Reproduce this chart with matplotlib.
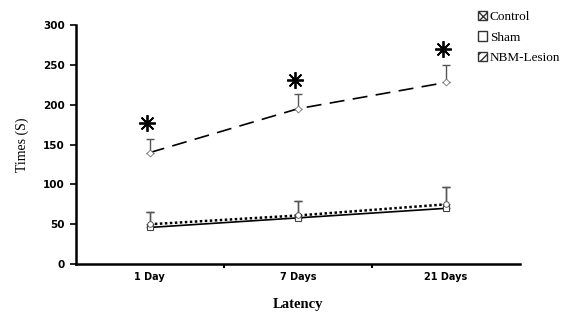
import matplotlib.pyplot as plt
import numpy as np
from matplotlib.patches import Patch

days = ["1 Day", "7 Days", "21 Days"]
control = [46, 58, 70]
control_err = [20, 21, 27]
sham = [50, 61, 75]
sham_err = [16, 18, 22]
lesion = [140, 195, 228]
lesion_err = [17, 19, 22]
star_y = [177, 231, 270]

plt.rcParams['font.family'] = ['DejaVu Sans']

fig = plt.figure(figsize=(5.79, 3.14), dpi=100)
ax = fig.add_axes([0.131, 0.159, 0.767, 0.761])

x = np.arange(len(days))

# error bars (upper only)
for vals, err in [(control, control_err), (sham, sham_err), (lesion, lesion_err)]:
    ax.errorbar(x, vals, yerr=[np.zeros(3), err], fmt='none', ecolor='#555555',
                elinewidth=1, capsize=3, capthick=1, zorder=2)

ax.plot(x, control, '-', color='black', lw=1.2, marker='s', ms=5,
        mfc='white', mec='#444444', mew=0.8, zorder=3)
ax.plot(x, sham, linestyle=(0, (1, 1)), color='black', lw=1.8, marker='o', ms=4,
        mfc='white', mec='#444444', mew=0.6, zorder=3)
ax.plot(x, lesion, linestyle=(0, (9, 5)), color='black', lw=1.2, marker='D', ms=3.5,
        mfc='white', mec='#777777', mew=0.6, zorder=3)

ax.plot(x - 0.02, star_y, linestyle='none', marker=(8, 2, 0), ms=12, mec='black', mew=1.3)

ax.set_xlim(-0.5, 2.5)
ax.set_ylim(0, 300)
ax.set_yticks(np.arange(0, 301, 50))
ax.set_xticks(x)
ax.set_xticklabels(days, fontsize=7, fontweight='bold')
ax.set_xticks([0.5, 1.5], minor=True)
ax.tick_params(axis='x', which='major', length=0, pad=6)
ax.tick_params(axis='x', which='minor', length=3, width=1.5, direction='out')
ax.tick_params(axis='y', length=4, width=1.2, labelsize=7.5, pad=4)
for lab in ax.get_yticklabels():
    lab.set_fontweight('bold')

ax.spines['top'].set_visible(False)
ax.spines['right'].set_visible(False)
ax.spines['left'].set_linewidth(1.8)
ax.spines['bottom'].set_linewidth(1.8)

ax.set_xlabel("Latency", fontsize=10.5, fontweight='bold', family='Liberation Serif', labelpad=11)
ax.set_ylabel("Times (S)", fontsize=10, family='Liberation Serif', labelpad=10)

handles = [Patch(facecolor='white', edgecolor='#333333', hatch='xxxx', label='Control'),
           Patch(facecolor='white', edgecolor='#333333', label='Sham'),
           Patch(facecolor='white', edgecolor='#333333', hatch='////', label='NBM-Lesion')]
fig.legend(handles=handles, loc='upper left', bbox_to_anchor=(0.807, 1.0), frameon=False,
           prop={'family': 'Liberation Serif', 'size': 9.5}, handlelength=0.7, handleheight=0.7,
           handletextpad=0.2, labelspacing=0.65, borderpad=0.3)

fig.savefig("out.png", dpi=100)
